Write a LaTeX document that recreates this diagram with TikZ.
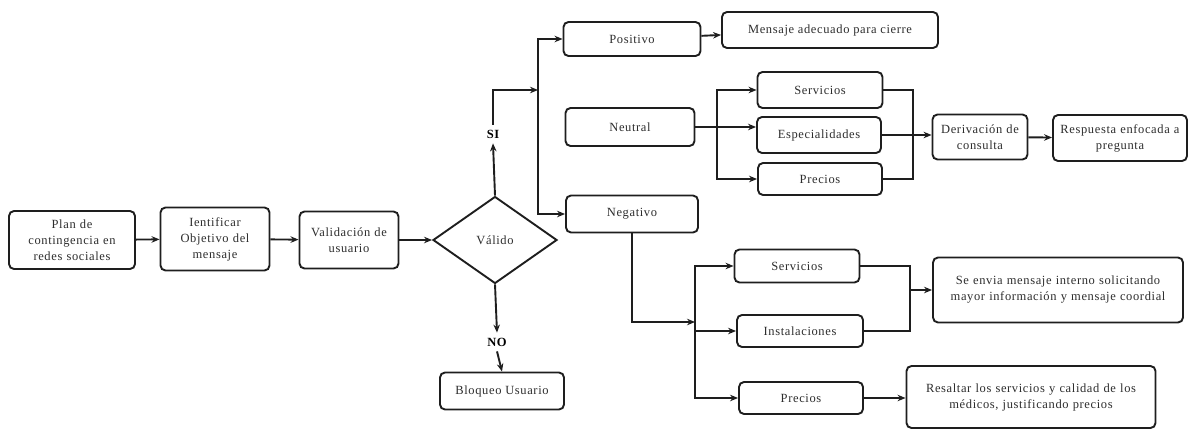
\documentclass[tikz,border=0pt]{standalone}
\usepackage{fontspec}
\setmainfont{Liberation Serif}[LetterSpace=5]
\usepackage{xcolor}
\definecolor{inkgray}{RGB}{30,30,30}
\definecolor{txtgray}{RGB}{45,45,45}
\usetikzlibrary{positioning,arrows.meta,shapes.geometric}

\begin{document}
\begin{tikzpicture}[
    x=1pt, y=-1pt,
    box/.style={draw=inkgray, rounded corners=5pt, align=center, inner sep=2pt,
                line width=1.9pt, text=txtgray, font=\fontsize{12.5}{16}\selectfont,
                fill=white},
    dec/.style={draw=inkgray, diamond, line width=1.9pt, inner sep=0pt,
                text=txtgray, font=\fontsize{12.5}{16}\selectfont},
    arr/.style={-{Stealth[length=8pt,width=6.5pt]}, line width=1.9pt, inkgray},
    lin/.style={line width=1.9pt, inkgray},
    lbl/.style={font=\fontsize{12.5}{16}\selectfont\bfseries, text=black,
                inner sep=5pt},
]
\useasboundingbox (0,0) rectangle (1188,431);

% --- NODES ---
\node[box, minimum width=126pt, minimum height=58pt, text width=120pt]
      (plan) at (72,240) {Plan de\\contingencia en\\redes sociales};
\node[box, minimum width=109pt, minimum height=63pt, text width=104pt]
      (ient) at (215,239) {Ientificar\\Objetivo del\\mensaje};
\node[box, minimum width=99pt, minimum height=57pt, text width=94pt]
      (valu) at (349,240) {Validación de\\usuario};
\node[dec, minimum width=124pt, minimum height=87pt]
      (valido) at (495,240) {Válido};

\node[lbl] (si) at (493,134) {SI};
\node[lbl] (no) at (497,342) {NO};

\node[box, minimum width=124pt, minimum height=37pt]
      (bloq) at (502,391) {Bloqueo Usuario};

% first level
\node[box, minimum width=137pt, minimum height=34pt] (pos) at (632,39) {Positivo};
\node[box, minimum width=129pt, minimum height=38pt] (neu) at (630,127) {Neutral};
\node[box, minimum width=132pt, minimum height=37pt] (neg) at (632,214) {Negativo};

\node[box, minimum width=216pt, minimum height=36pt]
      (mens) at (830,30) {Mensaje adecuado para cierre};

% neutral branch
\node[box, minimum width=125pt, minimum height=36pt] (servN) at (820,90) {Servicios};
\node[box, minimum width=124pt, minimum height=36pt] (espN) at (819,135) {Especialidades};
\node[box, minimum width=124pt, minimum height=32pt] (precN) at (820,179) {Precios};
\node[box, minimum width=95pt, minimum height=45pt, text width=90pt]
      (deriv) at (980,137) {Derivación de\\consulta};
\node[box, minimum width=134pt, minimum height=46pt, text width=130pt]
      (resp) at (1120,138) {Respuesta enfocada a\\pregunta};

% negative branch
\node[box, minimum width=125pt, minimum height=33pt] (servX) at (797,266) {Servicios};
\node[box, minimum width=126pt, minimum height=32pt] (instX) at (800,331) {Instalaciones};
\node[box, minimum width=124pt, minimum height=32pt] (precX) at (801,398) {Precios};
\node[box, minimum width=250pt, minimum height=65pt, text width=245pt]
      (envia) at (1058,290) {Se envia mensaje interno solicitando\\mayor información y mensaje coordial};
\node[box, minimum width=249pt, minimum height=62pt, text width=244pt]
      (resal) at (1031,397) {Resaltar los servicios y calidad de los\\médicos, justificando precios};

% bus points
\coordinate (busA) at (538,90);
\coordinate (busN) at (717,127);
\coordinate (joinN) at (913,137);
\coordinate (busX) at (695,322);
\coordinate (joinX) at (910,290);

% --- ARROWS ---
\draw[arr] (plan) -- (ient);
\draw[arr] (ient) -- (valu);
\draw[arr] (valu) -- (valido);

\draw[arr] (valido.north) -- (si.south);
\draw[arr] (si.north) |- (busA);
\draw[arr] (busA) |- (pos.west);
\draw[arr] (busA) |- (neg.west);

\draw[arr] (valido.south) -- (no.north);
\draw[arr] (no.south) -- (bloq.north);

\draw[arr] (pos) -- (mens);

\draw[arr] (neu.east) -- (neu.east -| espN.west);
\draw[arr] (busN) |- (servN.west);
\draw[arr] (busN) |- (precN.west);
\draw[lin] (servN.east) -| (joinN);
\draw[lin] (precN.east) -| (joinN);
\draw[arr] (espN.east) -- (espN.east -| deriv.west);
\draw[arr] (deriv) -- (resp);

\draw[arr] (neg.south) |- (busX);
\draw[arr] (busX) |- (servX.west);
\draw[arr] (busX) |- (instX.west);
\draw[arr] (busX) |- (precX.west);
\draw[lin] (servX.east) -| (joinX);
\draw[lin] (instX.east) -| (joinX);
\draw[arr] (joinX) -- (joinX -| envia.west);
\draw[arr] (precX) -- (precX -| resal.west);

\end{tikzpicture}
\end{document}
